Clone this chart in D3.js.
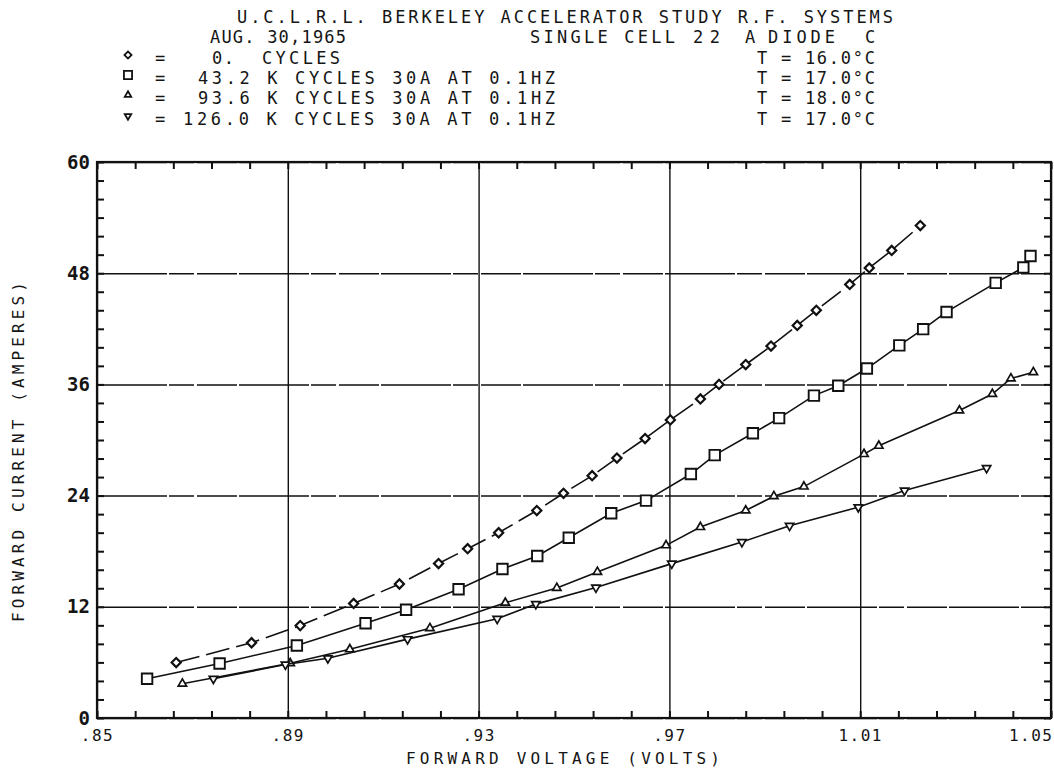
<!DOCTYPE html>
<html>
<head>
<meta charset="utf-8">
<script src="https://cdn.jsdelivr.net/npm/d3@7"></script>
<style>
  body { margin: 0; background: #fff; }
  text { font-family: "DejaVu Sans Mono", monospace; fill: #151515; }
</style>
</head>
<body>
<div id="chart"></div>
<script>
// values: forward voltage (V) and forward current (A)
const zeroVolts = [0.8666, 0.8824, 0.8926, 0.9038, 0.9134, 0.9216, 0.9277, 0.9342, 0.9422, 0.9478, 0.9538, 0.9590,
  0.9649, 0.9702, 0.9765, 0.9804, 0.9860, 0.9913, 0.9968, 1.0008, 1.0078, 1.0119, 1.0166, 1.0226];
const zeroAmps = [5.98, 8.12, 9.97, 12.36, 14.46, 16.67, 18.27, 19.99, 22.39, 24.25, 26.15, 28.05,
  30.16, 32.17, 34.43, 36.0, 38.14, 40.14, 42.36, 44.0, 46.79, 48.57, 50.46, 53.14];

const k43Volts = [0.8605, 0.8757, 0.8919, 0.9063, 0.9148, 0.9258, 0.9350, 0.9423, 0.9489, 0.9578, 0.9651, 0.9745,
  0.9795, 0.9875, 0.9930, 1.0003, 1.0054, 1.0114, 1.0182, 1.0232, 1.0281, 1.0384, 1.0442, 1.0457];
const k43Amps = [4.24, 5.88, 7.83, 10.22, 11.68, 13.89, 16.08, 17.48, 19.45, 22.10, 23.46, 26.33,
  28.37, 30.73, 32.36, 34.79, 35.86, 37.71, 40.21, 41.96, 43.82, 46.96, 48.61, 49.86];

const k93Volts = [0.8679, 0.8905, 0.9030, 0.9198, 0.9356, 0.9464, 0.9549, 0.9693, 0.9765, 0.9860, 0.9919, 0.9982,
  1.0108, 1.0139, 1.0308, 1.0377, 1.0416, 1.0463];
const k93Amps = [3.70, 5.90, 7.41, 9.69, 12.43, 14.04, 15.76, 18.63, 20.60, 22.39, 23.93, 24.97,
  28.48, 29.37, 33.18, 34.96, 36.64, 37.32];

const k126Volts = [0.8744, 0.8895, 0.8984, 0.9151, 0.9339, 0.9420, 0.9546, 0.9705, 0.9852, 0.9952, 1.0096, 1.0193, 1.0365];
const k126Amps = [4.24, 5.77, 6.45, 8.51, 10.71, 12.29, 14.08, 16.66, 18.99, 20.74, 22.75, 24.54, 26.97];

const voltTicks = [0.85, 0.89, 0.93, 0.97, 1.01, 1.05];
const ampTicks = [0, 12, 24, 36, 48, 60];

const legendCycles = ["0.", "43.2 K CYCLES 30A AT 0.1HZ", "93.6 K CYCLES 30A AT 0.1HZ", "126.0 K CYCLES 30A AT 0.1HZ"];
const legendTemps = ["T = 16.0°C", "T = 17.0°C", "T = 18.0°C", "T = 17.0°C"];

const margin = {top: 162, right: 3, bottom: 58, left: 97};
const width = 1054 - margin.left - margin.right,
  height = 776 - margin.top - margin.bottom;

const root = d3.select("#chart").append("svg")
  .attr("width", 1054)
  .attr("height", 776);

const svg = root.append("g")
  .attr("transform", `translate(${margin.left},${margin.top})`);

const x = d3.scaleLinear().domain([0.85, 1.05]).range([0, width]);
const y = d3.scaleLinear().domain([0, 60]).range([height, 0]);

const voltFmt = d => {
  const s = d3.format(".2f")(d);
  return d < 1 ? s.slice(1) : s;
};

// minor ticks (every .008 V and every 2 A), pointing inward on all four sides
const minorVolts = d3.range(0, 26).map(i => 0.85 + i * 0.008);
const minorAmps = d3.range(0, 31).map(i => i * 2);
const tickLen = 7;

const tickStyle = g => {
  g.select(".domain").remove();
  g.selectAll(".tick line").attr("stroke", "#111").attr("stroke-width", 2);
};
svg.append("g")
  .attr("transform", `translate(0,${height})`)
  .call(d3.axisTop(x).tickValues(minorVolts).tickSizeInner(tickLen).tickSizeOuter(0).tickFormat(() => ""))
  .call(tickStyle);
svg.append("g")
  .call(d3.axisBottom(x).tickValues(minorVolts).tickSizeInner(tickLen).tickSizeOuter(0).tickFormat(() => ""))
  .call(tickStyle);
svg.append("g")
  .call(d3.axisRight(y).tickValues(minorAmps).tickSizeInner(tickLen).tickSizeOuter(0).tickFormat(() => ""))
  .call(tickStyle);
svg.append("g")
  .attr("transform", `translate(${width},0)`)
  .call(d3.axisLeft(y).tickValues(minorAmps).tickSizeInner(tickLen).tickSizeOuter(0).tickFormat(() => ""))
  .call(tickStyle);

// grid + tick labels
const gx = svg.append("g")
  .attr("class", "grid x")
  .attr("transform", `translate(0,${height})`)
  .call(d3.axisBottom(x).tickValues(voltTicks).tickSize(-height).tickPadding(12).tickFormat(voltFmt));
gx.select(".domain").remove();
gx.selectAll("line").attr("stroke", "#111").attr("stroke-width", 1.4);
gx.selectAll("text").attr("font-size", 16).attr("letter-spacing", 1.5);
gx.selectAll(".tick:last-of-type text").attr("text-anchor", "end").attr("dx", 2);

const gy = svg.append("g")
  .attr("class", "grid y")
  .call(d3.axisLeft(y).tickValues(ampTicks).tickSize(-width).tickPadding(7));
gy.select(".domain").remove();
gy.selectAll("line").attr("stroke", "#111").attr("stroke-width", 1.5)
  .attr("stroke-dasharray", "70,2,25,3,40,2");
gy.selectAll("text").attr("font-size", 19).attr("font-weight", "bold");

// frame
svg.append("rect")
  .attr("width", width)
  .attr("height", height)
  .attr("fill", "none")
  .attr("stroke", "#111")
  .attr("stroke-width", 2.2);

// series
const series = [
  {volts: zeroVolts, amps: zeroAmps, symbol: d3.symbolSquare, size: 42, rot: 45, dash: "24,7", sw: 2.2},
  {volts: k43Volts, amps: k43Amps, symbol: d3.symbolSquare, size: 110, rot: 0, dash: null, sw: 1.9},
  {volts: k93Volts, amps: k93Amps, symbol: d3.symbolTriangle, size: 30, rot: 0, dash: null, sw: 1.7},
  {volts: k126Volts, amps: k126Amps, symbol: d3.symbolTriangle, size: 30, rot: 180, dash: null, sw: 1.7}
];

const line = d3.line()
  .x(d => x(d[0]))
  .y(d => y(d[1]));

series.forEach(s => {
  const pts = d3.zip(s.volts, s.amps);
  svg.append("path")
    .datum(pts)
    .attr("fill", "none")
    .attr("stroke", "#111")
    .attr("stroke-width", 1.6)
    .attr("stroke-dasharray", s.dash)
    .attr("d", line);

  svg.selectAll(null)
    .data(pts)
    .enter()
    .append("path")
    .attr("transform", d => `translate(${x(d[0])},${y(d[1])}) rotate(${s.rot})`)
    .attr("d", d3.symbol(s.symbol, s.size))
    .attr("fill", "#fff")
    .attr("stroke", "#111")
    .attr("stroke-width", s.sw);
});

// header text
const head = (str, x0, y0, len, size) => {
  const t = root.append("text")
    .attr("x", x0)
    .attr("y", y0)
    .attr("font-size", size || 17)
    .text(str);
  if (len) t.attr("textLength", len).attr("lengthAdjust", "spacing");
  return t;
};

head("U.C.L.R.L. BERKELEY ACCELERATOR STUDY R.F. SYSTEMS", 237, 23, 656);
head("AUG. 30,1965", 210, 43, 136);
head("SINGLE CELL", 530, 43, 145);
head("22", 693, 43, 27);
head("A", 745, 43);
head("DIODE", 768, 43, 67);
head("C", 865, 43);

const rowY = [64, 84, 104, 125];
const rowX = [212, 198, 198, 183];
const rowLen = [22, 357, 357, 372];
legendCycles.forEach((txt, i) => {
  root.append("path")
    .attr("transform", `translate(128,${rowY[i] - 9}) rotate(${series[i].rot})`)
    .attr("d", d3.symbol(series[i].symbol, series[i].size * 0.6))
    .attr("fill", "#fff")
    .attr("stroke", "#111")
    .attr("stroke-width", 1.8);
  head("=", 155, rowY[i]);
  head(txt, rowX[i], rowY[i], rowLen[i]);
  head(legendTemps[i], 757, rowY[i], 118);
});
head("CYCLES", 262, rowY[0], 78);

// axis titles
root.append("text")
  .attr("x", 563)
  .attr("y", 764)
  .attr("text-anchor", "middle")
  .attr("font-size", 16)
  .attr("textLength", 314)
  .attr("lengthAdjust", "spacing")
  .text("FORWARD VOLTAGE (VOLTS)");

root.append("text")
  .attr("transform", "translate(24,452) rotate(-90)")
  .attr("text-anchor", "middle")
  .attr("font-size", 16)
  .attr("textLength", 340)
  .attr("lengthAdjust", "spacing")
  .text("FORWARD CURRENT (AMPERES)");
</script>
</body>
</html>
